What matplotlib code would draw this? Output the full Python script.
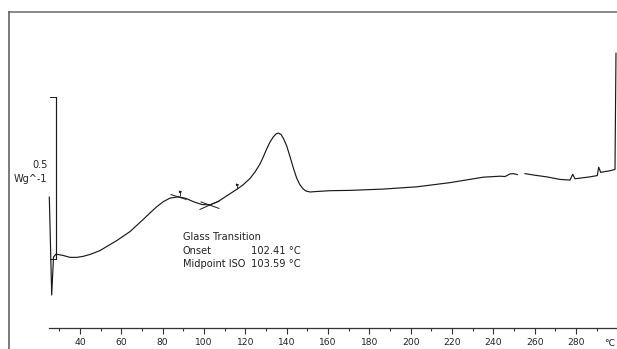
import numpy as np
import matplotlib
matplotlib.use("Agg")
import matplotlib.pyplot as plt
from matplotlib.path import Path
from matplotlib.lines import Line2D

# ---- data (temperature in °C, heat flow in W/g, arbitrary offset) ----
temperature = [25.15, 26.31, 27.18, 28.39, 31.77, 35.16, 38.55, 41.45, 44.84, 49.68,
               53.55, 57.76, 64.19, 70.63, 73.87, 77.11, 80.31, 83.55, 87.56, 91.29,
               94.82, 99.03, 102.90, 106.77, 110.98, 115.82, 118.87, 122.26, 124.68,
               127.10, 128.70, 130.34, 131.94, 133.53, 134.84, 135.95, 137.26, 138.37,
               140.02, 141.61, 143.21, 144.85, 146.45, 148.05, 149.36, 151.29, 154.53,
               160.97, 170.65, 186.61, 202.92, 219.03, 235.15, 243.23, 245.65, 248.06,
               249.66, 251.60,
               253.5,
               255.32, 260.16, 265.82, 272.26, 277.10, 278.40, 279.52, 286.77, 290.31,
               290.98, 291.95, 296.45, 298.87, 299.35]
heat_flow = [0.189, -0.115, 0.003, 0.012, 0.008, 0.002, 0.002, 0.005, 0.011, 0.023,
             0.038, 0.054, 0.082, 0.120, 0.140, 0.159, 0.175, 0.186, 0.190, 0.185,
             0.175, 0.166, 0.165, 0.175, 0.193, 0.213, 0.227, 0.247, 0.267,
             0.292, 0.314, 0.339, 0.360, 0.376, 0.385, 0.388, 0.384, 0.372,
             0.348, 0.315, 0.280, 0.248, 0.227, 0.214, 0.208, 0.205, 0.2065,
             0.209, 0.210, 0.214, 0.221, 0.234, 0.251, 0.254, 0.253, 0.261,
             0.262, 0.259,
             np.nan,
             0.262, 0.257, 0.252, 0.244, 0.242, 0.260, 0.246, 0.252, 0.256,
             0.282, 0.266, 0.271, 0.275, 0.636]

# glass-transition evaluation lines and flags
tangent_upper_T = [84.03, 91.29]
tangent_upper_hf = [0.197, 0.182]
tangent_step_T = [98.06, 107.26]
tangent_step_hf = [0.151, 0.177]
tangent_lower_T = [98.55, 107.26]
tangent_lower_hf = [0.174, 0.154]
flag_T = [88.39, 115.82]
flag_hf = [0.193, 0.214]

# scale bar (0.5 W/g)
scale_T = 28.15
scale_hf = [0.0, 0.5]

x_ticks_major = list(range(40, 281, 20))
x_ticks_minor = list(range(30, 291, 10))

gt_title = "Glass Transition"
gt_rows = [("Onset", "102.41 °C"), ("Midpoint ISO", "103.59 °C")]

# ---- figure ----
W, H = 617, 349
fig = plt.figure(figsize=(W / 100, H / 100), dpi=100)
ax = fig.add_axes([0, 0, 1, 1])
ax.set_xlim(1.29, 299.84)
ax.set_ylim(-0.2826, 0.8012)
ax.patch.set_alpha(0)

for s in ("top", "left", "right"):
    ax.spines[s].set_visible(False)
ax.spines["bottom"].set_position(("data", -0.2165))
ax.spines["bottom"].set_bounds(25.1, 299.84)
ax.spines["bottom"].set_color("#333333")
ax.spines["bottom"].set_linewidth(0.9)
ax.set_yticks([])
ax.set_xticks(x_ticks_major)
ax.set_xticks(x_ticks_minor, minor=True)
ax.tick_params(axis="x", which="major", direction="out", length=4.0, width=0.8,
               color="#333333", labelsize=6.6, pad=3.4, labelcolor="#222222")
ax.tick_params(axis="x", which="minor", direction="out", length=2.2, width=0.8,
               color="#333333")

lc = "#1a1a1a"
ax.plot(temperature, heat_flow, color=lc, lw=0.85, solid_joinstyle="round")

for tx, ty in ((tangent_upper_T, tangent_upper_hf),
               (tangent_step_T, tangent_step_hf),
               (tangent_lower_T, tangent_lower_hf)):
    ax.plot(tx, ty, color=lc, lw=0.7)

flag_path = Path([(0, 0), (0, 3.0), (-0.9, 3.0), (0.9, 3.6), (-0.9, 4.3), (-0.9, 3.0)],
                 [Path.MOVETO, Path.LINETO, Path.MOVETO, Path.LINETO, Path.LINETO,
                  Path.CLOSEPOLY])
ax.plot(flag_T, flag_hf, ls="none", marker=flag_path, markersize=8,
        color=lc, markerfacecolor=lc, markeredgewidth=0.6)

# scale bar
ax.plot([scale_T, scale_T], scale_hf, color=lc, lw=0.85)
ax.plot([25.6, scale_T], [scale_hf[1], scale_hf[1]], color=lc, lw=0.7)
ax.plot([25.4, scale_T], [scale_hf[0] - 0.003, scale_hf[0] - 0.003], color=lc, lw=0.7)
ax.text(24.3, 0.267, "0.5\nWg^-1", ha="right", va="center", fontsize=7.0,
        color="#222222", linespacing=1.45)

# annotation
ann_left, ann_right = 89.7, 146.9
ann_fs = 7.1
ax.text(ann_left, 0.0643, gt_title, ha="left", va="center", fontsize=ann_fs,
        color="#222222")
for i, (lab, val) in enumerate(gt_rows):
    yy = 0.0227 - i * 0.0400
    ax.text(ann_left, yy, lab, ha="left", va="center", fontsize=ann_fs, color="#222222")
    ax.text(ann_right, yy, val, ha="right", va="center", fontsize=ann_fs, color="#222222")

# unit label on axis
fig.text(610 / W, 1 - 343 / H, "°C", ha="center", va="center", fontsize=6.6,
         color="#222222")

# frame lines (left and top)
fig.add_artist(Line2D([9 / W, 9 / W], [0, 1 - 12 / H], transform=fig.transFigure,
                      color="#7a7a7a", lw=1.4))
fig.add_artist(Line2D([9 / W, 1], [1 - 12.3 / H, 1 - 12.3 / H], transform=fig.transFigure,
                      color="#6a6a6a", lw=1.1))

fig.savefig("out.png", dpi=100, facecolor="white")
